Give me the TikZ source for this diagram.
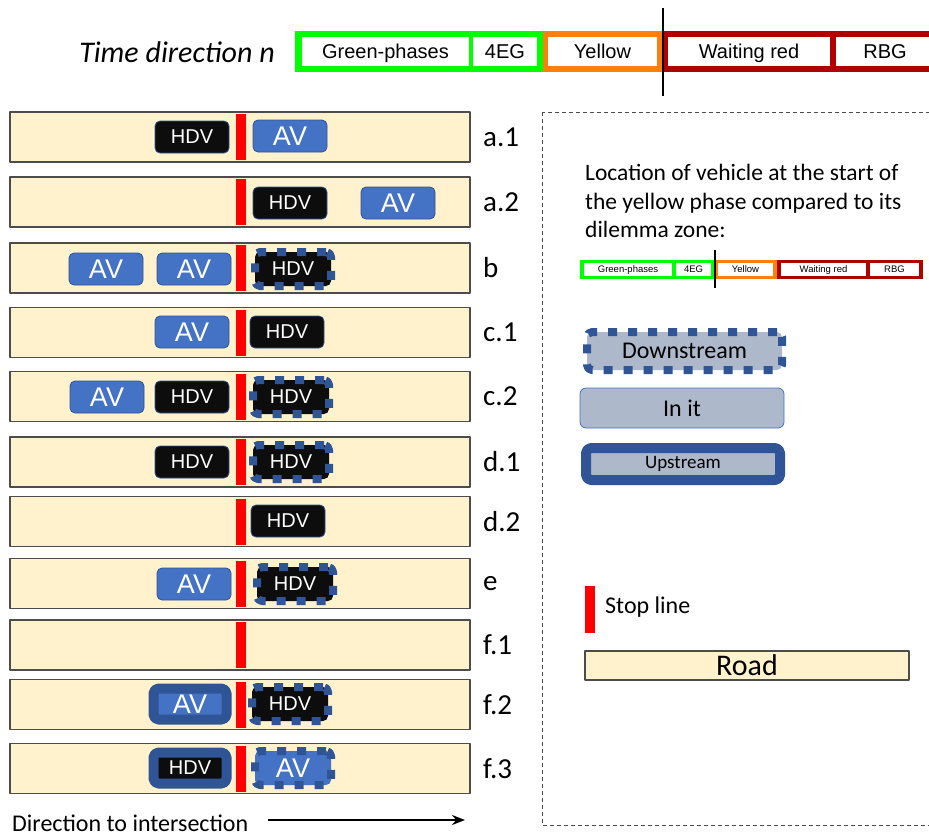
\documentclass[tikz,border=0pt]{standalone}
\usepackage{fontspec}
\setmainfont{Carlito}
\newfontfamily\arialfont{Liberation Sans}
\usetikzlibrary{arrows.meta}
\definecolor{roadfill}{HTML}{FFF2CC}
\definecolor{avblue}{HTML}{4472C4}
\definecolor{darkblue}{HTML}{2F5597}
\definecolor{hdvblack}{HTML}{0D0D0D}
\definecolor{leggray}{HTML}{ADB9CA}
\definecolor{phgreen}{HTML}{00FF00}
\definecolor{phorange}{HTML}{FF7F0E}
\definecolor{phred}{HTML}{B00000}
\begin{document}
\begin{tikzpicture}[x=1pt,y=-1pt,line join=round,>={Stealth[length=13pt,width=10pt]},
  road/.style={draw=black!70,fill=roadfill,line width=1.2pt,minimum width=460pt,minimum height=50pt,inner sep=0pt},
  stopline/.style={fill=red,minimum width=10pt,minimum height=46pt,inner sep=0pt},
  veh/.style={rounded corners=5pt,minimum width=74pt,minimum height=32pt,inner sep=0pt,text=white,draw=darkblue,line width=0.8pt},
  av/.style={veh,fill=avblue,font=\arialfont\fontsize{27}{27}\selectfont},
  hdv/.style={veh,fill=hdvblack,font=\arialfont\fontsize{20}{20}\selectfont},
  down/.style={draw=darkblue,line width=8pt,dash pattern=on 9pt off 11pt,minimum width=76pt,minimum height=34pt},
  up/.style={draw=darkblue,line width=10pt,rounded corners=5pt,minimum width=73pt,minimum height=31pt},
  phase/.style={fill=white,inner sep=0pt,text depth=0pt}]
\clip (0,0) rectangle (929,836);
\useasboundingbox (0,0) rectangle (929,836);

% time direction bar
\node[font=\itshape\fontsize{30}{30}\selectfont] (tdir) at (177,52) {Time direction n};
\fill[phgreen] (295,31) rectangle (543,72);
\fill[phorange] (543,31) rectangle (662,72);
\fill[phred] (662,31) rectangle (940,72);
\foreach \xa/\xb/\txt/\nm in {302/469/Green-phases/tgp,473/537/4EG/teg,548/657/Yellow/tye,668/830/Waiting red/twr,836/934/RBG/trbg}
  \node[phase,minimum width={\xb-\xa},minimum height=29pt,text height=14.3pt,font=\arialfont\fontsize{20}{20}\selectfont] (\nm) at ({(\xa+\xb)/2},51.5) {\txt};
\draw[line width=2pt] (663,8) -- (663,96);

% roads with stop lines
\foreach \y/\lab [count=\i] in {137/a.1,202/a.2,268/b,332.5/c.1,396.5/c.2,462/d.1,521.5/d.2,583.5/e,645/f.1,704.5/f.2,768.5/f.3}{
  \node[road] (road\i) at (240,\y) {};
  \node[stopline] (stop\i) at (241,\y) {};
  \node[anchor=west,inner sep=0pt,font=\fontsize{29}{29}\selectfont] (lab\i) at (483,\y) {\lab};
}

% vehicles
\node[hdv] (aonehdv) at (192,137) {HDV};
\node[av] (aoneav) at (290,136) {AV};
\node[hdv] (atwohdv) at (290,203) {HDV};
\node[av] (atwoav) at (398,203) {AV};
\node[av] (bavone) at (106,269) {AV};
\node[av] (bavtwo) at (194,269) {AV};
\node[hdv,down] (bhdv) at (293,269) {HDV};
\node[av] (coneav) at (192,332) {AV};
\node[hdv] (conehdv) at (287,332) {HDV};
\node[av] (ctwoav) at (107,397) {AV};
\node[hdv] (ctwohdv) at (192,397) {HDV};
\node[hdv,down] (ctwodown) at (291,397) {HDV};
\node[hdv] (donehdv) at (192,462) {HDV};
\node[hdv,down] (donedown) at (291,462) {HDV};
\node[hdv] (dtwohdv) at (288,521) {HDV};
\node[av] (eav) at (194,584) {AV};
\node[hdv,down] (edown) at (295,584) {HDV};
\node[av,up] (ftwoup) at (190,704) {AV};
\node[hdv,down] (ftwodown) at (290,704) {HDV};
\node[hdv,up] (fthreeup) at (190,768) {HDV};
\node[av,down] (fthreedown) at (293,768) {AV};

% direction
\node[anchor=base west,inner sep=0pt,font=\fontsize{24}{24}\selectfont] (dir) at (12,831) {Direction to intersection};
\coordinate (dstart) at (268,820);
\coordinate (dend) at (465,820);
\draw[->,line width=2.2pt] (dstart) -- (dend);

% legend
\draw[black!70,line width=1pt,dash pattern=on 4pt off 3pt] (542,112) rectangle (940,825);
\node[anchor=north west,align=left,inner sep=0pt,font=\fontsize{23.5}{28.5}\selectfont] (loc) at (585,164)
  {Location of vehicle at the start of\\the yellow phase compared to its\\dilemma zone:};
\fill[phgreen] (580,260) rectangle (714,279);
\fill[phorange] (714,260) rectangle (777,279);
\fill[phred] (777,260) rectangle (923,279);
\foreach \xa/\xb/\txt/\nm in {584/672/Green-phases/sgp,676/711/4EG/seg,718/773/Yellow/sye,781/866/Waiting red/swr,870/919/RBG/srbg}
  \node[phase,minimum width={\xb-\xa},minimum height=13pt,text height=6.8pt,font=\arialfont\fontsize{9.5}{9.5}\selectfont] (\nm) at ({(\xa+\xb)/2},269.5) {\txt};
\draw[line width=2pt] (715,250) -- (715,288);
\node[down,fill=leggray,rounded corners=5pt,minimum width=195pt,minimum height=38pt,font=\fontsize{24}{24}\selectfont] (ldown) at (684.5,351) {Downstream};
\node[draw=avblue,fill=leggray,rounded corners=6pt,line width=0.8pt,minimum width=204pt,minimum height=40pt,font=\fontsize{24}{24}\selectfont] (linit) at (682,408) {In it};
\node[up,fill=leggray,minimum width=194pt,minimum height=32pt,font=\fontsize{19}{19}\selectfont] (lup) at (683,464) {Upstream};
\node[stopline,minimum height=47pt] (lstop) at (590,609.5) {};
\node[anchor=west,inner sep=0pt,font=\fontsize{24}{24}\selectfont] (lstoptxt) at (605,607) {Stop line};
\node[road,minimum width=324pt,minimum height=29pt,font=\fontsize{30}{30}\selectfont] (lroad) at (747,665.5) {Road};
\end{tikzpicture}
\end{document}
